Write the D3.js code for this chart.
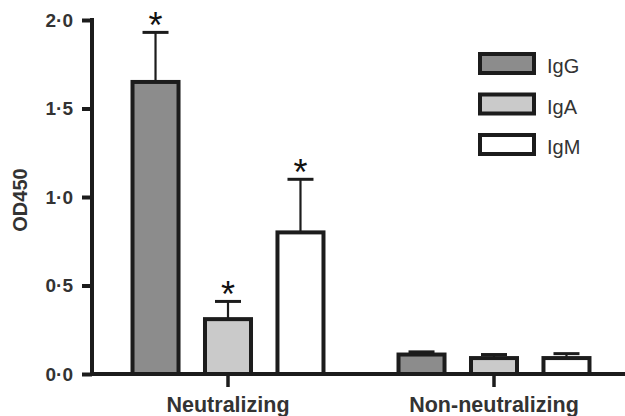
<!DOCTYPE html>
<html>
<head>
<meta charset="utf-8">
<script src="https://cdn.jsdelivr.net/npm/d3@7"></script>
<style>
  html, body { margin: 0; padding: 0; background: #fff; }
  svg { display: block; font-family: "Liberation Sans", Arial, sans-serif; }
</style>
</head>
<body>
<svg id="chart" width="625" height="416"></svg>
<script>
// Antibody isotype OD450 by serum group
const groups = ["Neutralizing", "Non-neutralizing"];
const isotypes = ["IgG", "IgA", "IgM"];
const meanValues = {
  IgG: [1.65, 0.11],
  IgA: [0.31, 0.09],
  IgM: [0.80, 0.09]
};
const errorTops = {
  IgG: [1.93, 0.125],
  IgA: [0.41, 0.11],
  IgM: [1.10, 0.115]
};
const significant = {
  IgG: [true, false],
  IgA: [true, false],
  IgM: [true, false]
};
const yTicks = [0, 0.5, 1.0, 1.5, 2.0];
const yTickLabels = ["0·0", "0·5", "1·0", "1·5", "2·0"];
const fills = { IgG: "#8c8c8c", IgA: "#cacaca", IgM: "#ffffff" };

const svg = d3.select("#chart");
const ink = "#1c1c1c";
const textInk = "#333";
const sw = 4;

const y = d3.scaleLinear().domain([0, 2]).range([374, 20]);
const x0 = d3.scaleBand().domain(groups).range([95, 627]).padding(0);
const x1 = d3.scaleBand().domain(isotypes).range([0, x0.bandwidth()])
  .paddingInner(0.31).paddingOuter(0.49);

const rows = [];
groups.forEach((g, gi) => {
  isotypes.forEach(s => {
    rows.push({ group: g, series: s, v: meanValues[s][gi], e: errorTops[s][gi], sig: significant[s][gi] });
  });
});

const bx = d => x0(d.group) + x1(d.series);
const bw = x1.bandwidth();

// Error bars (behind the bar outline)
svg.append("g").selectAll("g").data(rows).join("g").each(function(d) {
  const g = d3.select(this);
  const cx = bx(d) + bw / 2;
  g.append("line").attr("x1", cx).attr("x2", cx)
    .attr("y1", y(d.v)).attr("y2", y(d.e))
    .attr("stroke", ink).attr("stroke-width", 2.2);
  g.append("line").attr("x1", cx - 13).attr("x2", cx + 13)
    .attr("y1", y(d.e)).attr("y2", y(d.e))
    .attr("stroke", ink).attr("stroke-width", 3);
});

svg.append("g").selectAll("rect").data(rows).join("rect")
  .attr("x", d => bx(d) + sw / 2)
  .attr("width", bw - sw)
  .attr("y", d => y(d.v))
  .attr("height", d => y(0) - y(d.v))
  .attr("fill", d => fills[d.series])
  .attr("stroke", ink)
  .attr("stroke-width", sw);

// Significance markers
svg.append("g").selectAll("text").data(rows.filter(d => d.sig)).join("text")
  .attr("x", d => bx(d) + bw / 2)
  .attr("y", d => y(d.e) + 6)
  .attr("text-anchor", "middle")
  .attr("font-size", 36)
  .attr("fill", "#111")
  .text("*");

// Y axis
const yAxis = svg.append("g").attr("transform", "translate(92,0)")
  .call(d3.axisLeft(y).tickValues(yTicks).tickSize(10).tickPadding(9)
    .tickFormat((d, i) => yTickLabels[i]));
yAxis.select(".domain").remove();
yAxis.append("line").attr("x1", 0).attr("x2", 0).attr("y1", y(2) - 2).attr("y2", y(0) + 2)
  .attr("stroke", ink).attr("stroke-width", sw);
yAxis.selectAll(".tick line").attr("stroke", ink).attr("stroke-width", sw);
yAxis.selectAll(".tick text").attr("font-size", 19).attr("font-weight", "bold")
  .attr("fill", textInk).attr("font-family", "\"Liberation Sans\", Arial, sans-serif");

// X axis
const xAxis = svg.append("g").attr("transform", `translate(0,${y(0)})`)
  .call(d3.axisBottom(x0).tickSize(13).tickPadding(10));
xAxis.select(".domain").remove();
xAxis.append("line").attr("x1", 90).attr("x2", 625).attr("y1", 0).attr("y2", 0)
  .attr("stroke", ink).attr("stroke-width", sw);
xAxis.selectAll(".tick line").attr("stroke", ink).attr("stroke-width", 3.5);
xAxis.selectAll(".tick text").attr("font-size", 21.5).attr("font-weight", "bold")
  .attr("fill", textInk).attr("font-family", "\"Liberation Sans\", Arial, sans-serif");

// Y axis title
svg.append("text")
  .attr("transform", "translate(27,200) rotate(-90)")
  .attr("text-anchor", "middle")
  .attr("font-size", 20)
  .attr("font-weight", "bold")
  .attr("fill", textInk)
  .text("OD450");

// Legend
const legend = svg.append("g").attr("transform", "translate(478,52)");
const item = legend.selectAll("g").data(isotypes).join("g")
  .attr("transform", (d, i) => `translate(0,${i * 40.5})`);
item.append("rect")
  .attr("x", sw / 2).attr("y", sw / 2)
  .attr("width", 58 - sw).attr("height", 23 - sw)
  .attr("fill", d => fills[d])
  .attr("stroke", ink).attr("stroke-width", sw);
item.append("text")
  .attr("x", 69).attr("y", 21)
  .attr("font-size", 20)
  .attr("fill", textInk)
  .text(d => d);
</script>
</body>
</html>
